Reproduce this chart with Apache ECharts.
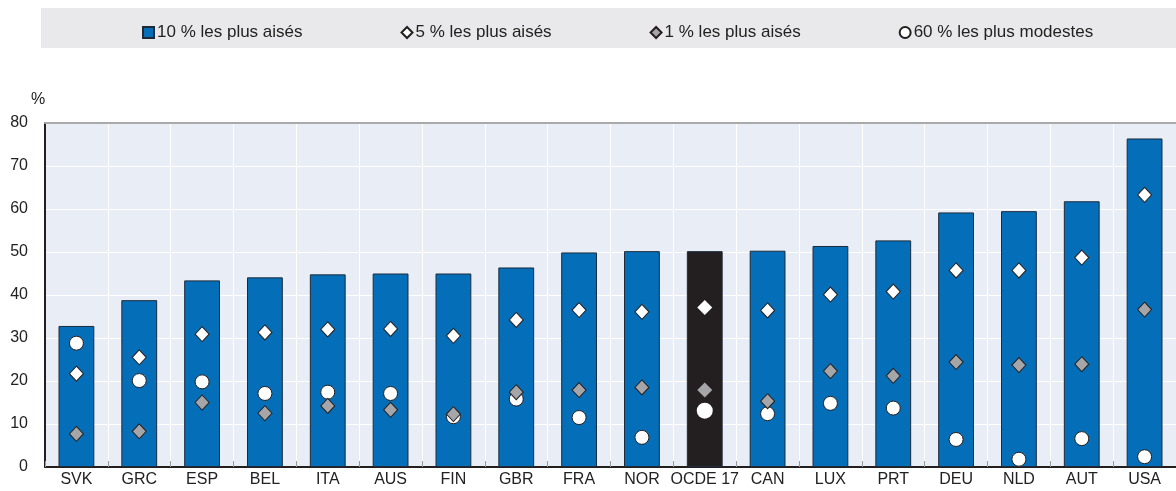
<!DOCTYPE html>
<html>
<head>
<meta charset="utf-8">
<script src="https://cdn.jsdelivr.net/npm/echarts@6/dist/echarts.min.js"></script>
<style>
  html, body { margin: 0; padding: 0; background: #fff; }
  #chart { width: 1176px; height: 491px; }
</style>
</head>
<body>
<div id="chart"></div>
<script>
// pays (OCDE 17 = moyenne)
var countries = ['SVK', 'GRC', 'ESP', 'BEL', 'ITA', 'AUS', 'FIN', 'GBR', 'FRA', 'NOR', 'OCDE 17', 'CAN', 'LUX', 'PRT', 'DEU', 'NLD', 'AUT', 'USA']
var top10 = [32.8, 38.8, 43.4, 44.1, 44.8, 45.0, 45.0, 46.4, 49.9, 50.2, 50.2, 50.3, 51.4, 52.7, 59.2, 59.5, 61.8, 76.4]
var top5 = [21.7, 25.5, 30.9, 31.3, 32.0, 32.1, 30.5, 34.2, 36.5, 36.1, 37.1, 36.4, 40.1, 40.8, 45.7, 45.7, 48.7, 63.3]
var top1 = [7.7, 8.3, 15.0, 12.5, 14.2, 13.3, 12.3, 17.4, 17.9, 18.5, 17.9, 15.3, 22.3, 21.2, 24.4, 23.7, 23.9, 36.6]
var bottom60 = [28.8, 20.1, 19.8, 17.1, 17.4, 17.1, 11.7, 15.8, 11.5, 6.9, 13.1, 12.4, 14.8, 13.7, 6.4, 1.8, 6.6, 2.4]
var yTicks = [0, 80, 10]

var seriesNames = ['10 % les plus aisés', '5 % les plus aisés', '1 % les plus aisés', '60 % les plus modestes']
var avgName = 'OCDE 17'

var chart = echarts.init(document.getElementById('chart'))

var font = 'Liberation Sans, Arial, sans-serif'

// la moyenne OCDE est dessinée en noir, sans contour pour les marqueurs
function barData() {
  return top10.map(function (v, i) {
    if (countries[i] === avgName) {
      return { value: v, itemStyle: { color: '#231f20' } }
    }
    return v
  })
}
function markerData(arr, size) {
  return arr.map(function (v, i) {
    if (countries[i] === avgName) {
      return { value: v, symbolSize: size + 2, itemStyle: { borderWidth: 0 } }
    }
    return v
  })
}

var option = {
  animation: false,
  graphic: [
    {
      type: 'rect',
      left: 41,
      top: 8,
      shape: { width: 1135, height: 40 },
      style: { fill: '#e9e9ec' },
      z: -10
    },
    {
      type: 'text',
      left: 31,
      top: 92,
      style: { text: '%', font: '16px Liberation Sans, Arial', fill: '#222' }
    }
  ],
  legend: {
    left: 137,
    top: 19,
    itemGap: 98,
    itemWidth: 11,
    itemHeight: 11,
    textStyle: { fontFamily: font, fontSize: 17, color: '#222', padding: [0, 0, 0, -2] },
    data: [
      { name: seriesNames[0], icon: 'rect' },
      { name: seriesNames[1], icon: 'diamond' },
      { name: seriesNames[2], icon: 'diamond' },
      { name: seriesNames[3], icon: 'circle' }
    ]
  },
  grid: {
    left: 45,
    right: -12,
    top: 123,
    bottom: 24,
    show: true,
    backgroundColor: '#e9edf6',
    borderWidth: 0
  },
  xAxis: [
    {
      type: 'category',
      data: countries,
      axisLine: { lineStyle: { color: '#231f20', width: 2 } },
      axisTick: { show: true, inside: true, length: 6, lineStyle: { color: '#999' } },
      axisLabel: { fontFamily: font, fontSize: 16, color: '#222', margin: 5, interval: 0 },
      splitLine: { show: true, lineStyle: { color: '#ffffff', width: 1 } }
    },
    {
      type: 'category',
      data: countries,
      position: 'top',
      axisLine: { lineStyle: { color: '#aaaaaa', width: 2 } },
      axisTick: { show: false },
      axisLabel: { show: false },
      splitLine: { show: false }
    }
  ],
  yAxis: {
    type: 'value',
    min: yTicks[0],
    max: yTicks[1],
    interval: yTicks[2],
    axisLine: { show: true, lineStyle: { color: '#231f20', width: 2 } },
    axisTick: { show: false },
    axisLabel: { fontFamily: font, fontSize: 16, color: '#222', margin: 17 },
    splitLine: { show: true, lineStyle: { color: '#ffffff', width: 1 } }
  },
  series: [
    {
      name: seriesNames[0],
      type: 'bar',
      data: barData(),
      barCategoryGap: '43%',
      itemStyle: { color: '#046fb8', borderColor: '#1c2a3a', borderWidth: 1 }
    },
    {
      name: seriesNames[3],
      type: 'scatter',
      symbol: 'circle',
      symbolSize: 14,
      data: markerData(bottom60, 14),
      itemStyle: { color: '#ffffff', borderColor: '#231f20', borderWidth: 1, opacity: 1 },
      z: 3
    },
    {
      name: seriesNames[1],
      type: 'scatter',
      symbol: 'diamond',
      symbolSize: [14, 15],
      data: markerData(top5, 13),
      itemStyle: { color: '#ffffff', borderColor: '#231f20', borderWidth: 1, opacity: 1 },
      z: 4
    },
    {
      name: seriesNames[2],
      type: 'scatter',
      symbol: 'diamond',
      symbolSize: [14, 15],
      data: markerData(top1, 13),
      itemStyle: { color: '#a6a6a8', borderColor: '#231f20', borderWidth: 1, opacity: 1 },
      z: 5
    }
  ]
}

chart.setOption(option)
</script>
</body>
</html>
